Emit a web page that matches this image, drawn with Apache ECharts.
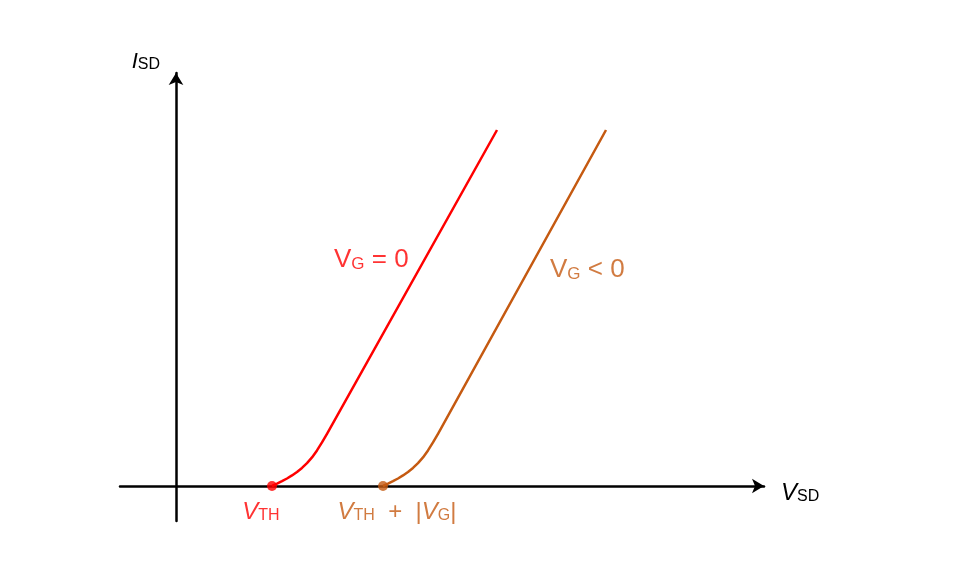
<!DOCTYPE html>
<html>
<head>
<meta charset="utf-8">
<script src="https://cdn.jsdelivr.net/npm/echarts@6/dist/echarts.min.js"></script>
<style>html,body{margin:0;padding:0;background:#fff}#c{width:957px;height:567px}</style>
</head>
<body>
<div id="c"></div>
<script>
// Curve for V_G = 0 (arbitrary units)
const curveVG0 = [[9.6,0],[10.1,0.23],[10.6,0.48],[11.1,0.75],[11.6,1.06],[12.1,1.41],[12.6,1.81],[13.1,2.29],[13.6,2.86],[14.1,3.56],[14.6,4.36],[15.1,5.22],[32.1,35.6]];
// Curve for V_G < 0 (shifted by |V_G|)
const curveVGneg = [[20.7,0],[21.2,0.23],[21.7,0.48],[22.2,0.75],[22.7,1.06],[23.2,1.41],[23.7,1.81],[24.2,2.29],[24.7,2.86],[25.2,3.56],[25.7,4.36],[26.2,5.22],[43.0,35.6]];
const thresholdPoints = [[9.6,0],[20.7,0]];
const curveLabelPos = [[15.8,23.0],[37.4,22.0]];
const xRange = [-5.6, 58.8];
const yRange = [-3.5, 41.3];

const RED = '#FF0000', ORANGE = '#C55A11';
const FONT = 'Liberation Sans, Arial, sans-serif';
function rich(color, big, small){
  return {
    vi:{fontFamily:FONT,fontSize:big,fontStyle:'italic',color:color,verticalAlign:'bottom',lineHeight:big+8},
    v:{fontFamily:FONT,fontSize:big,color:color,verticalAlign:'bottom',lineHeight:big+8},
    s:{fontFamily:FONT,fontSize:small,color:color,verticalAlign:'bottom',lineHeight:small-2}
  };
}

const chart = echarts.init(document.getElementById('c'));
chart.setOption({
  animation:false,
  grid:{left:120,right:193,top:73,bottom:46},
  xAxis:{type:'value',min:xRange[0],max:xRange[1],
    axisLine:{onZero:true,symbol:['none','arrow'],symbolSize:[11,12],lineStyle:{color:'#000',width:2.5}},
    axisTick:{show:false},axisLabel:{show:false},splitLine:{show:false},
    name:'{vi|V}{s|SD}',nameLocation:'end',nameGap:17,
    nameTextStyle:{rich:rich('#000',24,16),verticalAlign:'middle',padding:[6,0,0,0]}},
  yAxis:{type:'value',min:yRange[0],max:yRange[1],
    axisLine:{onZero:true,symbol:['none','arrow'],symbolSize:[11,12],lineStyle:{color:'#000',width:2.5}},
    axisTick:{show:false},axisLabel:{show:false},splitLine:{show:false},
    name:'{vi|I}{s|SD}',nameLocation:'end',nameGap:0,
    nameTextStyle:{rich:rich('#000',22,16),align:'right',verticalAlign:'bottom',padding:[0,16,0,0]}},
  series:[
    {type:'line',data:curveVG0,smooth:false,showSymbol:false,lineStyle:{color:RED,width:2.5,join:'round'},z:3},
    {type:'line',data:curveVGneg,smooth:false,showSymbol:false,lineStyle:{color:ORANGE,width:2.5,join:'round'},z:3},
    {type:'scatter',data:[
        {value:thresholdPoints[0],itemStyle:{color:RED},label:{show:true,position:'bottom',distance:1,offset:[-11,0],formatter:'{vi|V}{s|TH}',rich:rich(RED,24,16)}},
        {value:thresholdPoints[1],itemStyle:{color:ORANGE},label:{show:true,position:'bottom',distance:1,offset:[14,0],formatter:'{vi|V}{s|TH}{v|  +  |}{vi|V}{s|G}{v||}',rich:rich(ORANGE,24,16)}}
      ],symbolSize:10,z:5},
    {type:'scatter',symbolSize:0,data:[
        {value:curveLabelPos[0],label:{show:true,position:'right',distance:0,formatter:'{v|V}{s|G}{v| = 0}',rich:rich(RED,26,17)}},
        {value:curveLabelPos[1],label:{show:true,position:'right',distance:0,formatter:'{v|V}{s|G}{v| < 0}',rich:rich(ORANGE,26,17)}}
      ],z:5}
  ]
});
</script>
</body>
</html>
